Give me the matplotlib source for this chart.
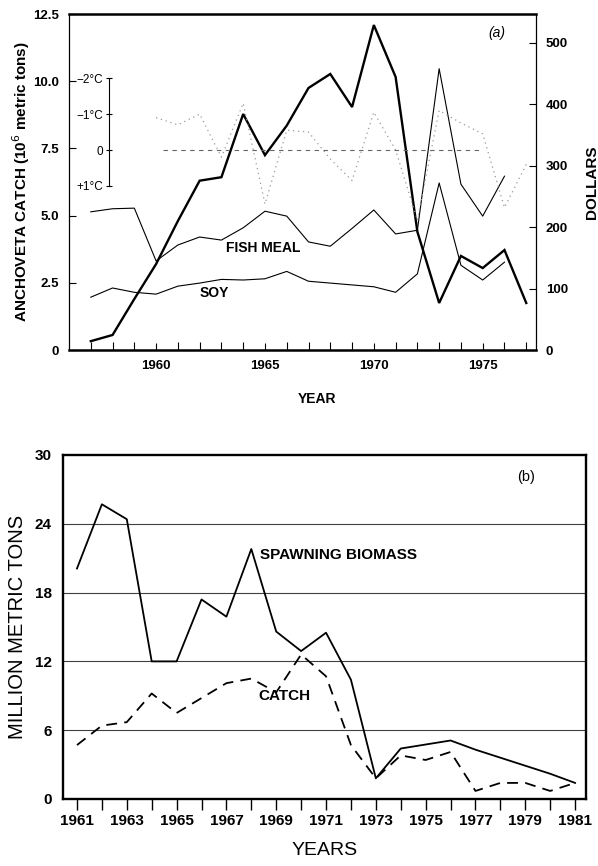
import matplotlib.pyplot as plt

plt.rcParams['font.family'] = ['Liberation Sans', 'DejaVu Sans']

# panel (a): anchoveta catch, prices and temperature anomaly
years_a = list(range(1957, 1978))
catch_a = [0.33, 0.56, 1.9, 3.2, 4.8, 6.3, 6.43, 8.78, 7.25, 8.35, 9.75, 10.27,
           9.04, 12.09, 10.16, 4.4, 1.75, 3.5, 3.05, 3.72, 1.75]
price_years = list(range(1957, 1977))
fish_meal = [225, 230, 231, 145, 171, 184, 179, 199, 226, 218, 176, 169, 198,
             228, 189, 195, 458, 270, 218, 283]
soy = [86, 101, 94, 91, 104, 109, 115, 114, 116, 128, 112, 109, 106, 103, 94,
       124, 272, 138, 114, 143]
temp_years = list(range(1960, 1978))
temp_anom = [-0.9, -0.7, -1.0, 0.2, -1.3, 1.5, -0.55, -0.5, 0.25, 0.85, -1.05,
             0.0, 1.95, -1.1, -0.75, -0.45, 1.6, 0.4]
temp_ticks = [-2, -1, 0, 1]
temp_labels = ['\u22122\u00b0C', '\u22121\u00b0C', '0', '+1\u00b0C']

# panel (b): spawning biomass and catch
years_b = list(range(1961, 1982))
biomass = [20.1, 25.7, 24.4, 12.0, 12.0, 17.4, 15.9, 21.8, 14.6, 12.9, 14.5,
           10.4, 1.8, 4.4, 4.75, 5.1, 4.3, 3.6, 2.9, 2.2, 1.4]
catch_b = [4.7, 6.4, 6.7, 9.2, 7.5, 8.8, 10.1, 10.5, 9.3, 12.6, 10.7, 4.7, 1.8,
           3.8, 3.4, 4.1, 0.7, 1.4, 1.4, 0.7, 1.4]

fig = plt.figure(figsize=(5.98, 8.66), dpi=100)

# ---------------- (a) ----------------
ax = fig.add_axes([0.1154, 0.5958, 0.781, 0.388])
ax.plot(years_a, catch_a, color='k', lw=1.7, solid_joinstyle='miter')
ax.set_xlim(1956.0, 1977.45)
ax.set_ylim(0, 12.5)
ax.set_yticks([0, 2.5, 5, 7.5, 10, 12.5])
ax.set_yticklabels(['0', '2.5', '5.0', '7.5', '10.0', '12.5'])
ax.set_xticks(range(1957, 1978), minor=True)
ax.set_xticks([1960, 1965, 1970, 1975])
ax.tick_params(axis='both', which='both', direction='in', length=5, width=0.8,
               labelsize=9.5, pad=7)
ax.tick_params(axis='x', which='minor', length=6)
for lab in ax.get_xticklabels() + ax.get_yticklabels():
    lab.set_fontweight('bold')
ax.spines['top'].set_linewidth(1.8)
ax.spines['bottom'].set_linewidth(1.8)
ax.spines['left'].set_linewidth(0.9)
ax.spines['right'].set_linewidth(0.9)
ax.set_ylabel('ANCHOVETA CATCH (10$^{6}$ metric tons)', fontsize=11,
              fontweight='bold')
ax.yaxis.set_label_coords(-0.08, 0.5)
ax.set_xlabel('YEAR', fontsize=10, fontweight='bold')
ax.xaxis.set_label_coords(0.531, -0.125)
ax.text(0.915, 0.945, '(a)', transform=ax.transAxes, fontsize=10,
        style='italic', ha='center', va='center')

ax2 = ax.twinx()
ax2.plot(price_years, fish_meal, color='k', lw=0.8)
ax2.plot(price_years, soy, color='k', lw=0.8)
ax2.set_ylim(0, 547)
ax2.set_yticks([0, 100, 200, 300, 400, 500])
ax2.tick_params(axis='y', direction='in', length=5, width=0.8, labelsize=9.5,
                pad=7)
for lab in ax2.get_yticklabels():
    lab.set_fontweight('bold')
ax2.set_ylabel('DOLLARS', fontsize=11, fontweight='bold', labelpad=12)
for s in ax2.spines.values():
    s.set_visible(False)
ax.text(1963.2, 3.8, 'FISH MEAL', fontsize=10, fontweight='bold',
        va='center')
ax.text(1962.0, 2.12, 'SOY', fontsize=10, fontweight='bold', va='center')

# temperature scale (negative up)
tax = ax.twinx()
tax.set_ylim(5.56, -3.78)
tax.plot(temp_years, temp_anom, color='0.6', lw=0.9, linestyle=(0, (1, 3)))
tax.plot([temp_years[0] + 0.3, 1975], [0, 0], color='0.4', lw=0.8,
         linestyle=(0, (4, 4)))
for name in ['top', 'bottom', 'right']:
    tax.spines[name].set_visible(False)
tax.spines['left'].set_visible(True)
tax.spines['left'].set_position(('data', 1957.84))
tax.spines['left'].set_bounds(-2, 1)
tax.spines['left'].set_linewidth(0.8)
tax.yaxis.tick_left()
tax.set_yticks(temp_ticks)
tax.set_yticklabels(temp_labels)
tax.tick_params(axis='y', direction='inout', length=5, width=0.8,
                labelsize=8.5, pad=2)

# ---------------- (b) ----------------
bx = fig.add_axes([0.1054, 0.0774, 0.8746, 0.3972])
bx.set_xlim(1960.44, 1981.44)
bx.set_ylim(0, 30)
for v in [6, 12, 18, 24]:
    bx.axhline(v, color='0.25', lw=0.8, zorder=1)
bx.plot(years_b, biomass, color='k', lw=1.3, zorder=3)
bx.plot(years_b, catch_b, color='k', lw=1.3, dashes=(6, 4), zorder=3)
bx.set_yticks([0, 6, 12, 18, 24, 30])
bx.set_xticks(range(1961, 1982))
bx.set_xticklabels([str(y) if y % 2 == 1 else '' for y in years_b])
bx.tick_params(axis='x', direction='out', length=8, width=1.0,
               labelsize=11, pad=3)
bx.tick_params(axis='y', length=0, labelsize=11, pad=8)
for lab in bx.get_xticklabels() + bx.get_yticklabels():
    lab.set_fontweight('bold')
for s in bx.spines.values():
    s.set_linewidth(1.7)
bx.set_xlabel('YEARS', fontsize=14, labelpad=10)
bx.set_ylabel('MILLION METRIC TONS', fontsize=14.5, labelpad=6)
bx.text(0.885, 0.935, '(b)', transform=bx.transAxes, fontsize=10.5,
        ha='center', va='center')
bx.text(1968.35, 21.3, 'SPAWNING BIOMASS', fontsize=11, fontweight='bold',
        va='center')
bx.text(1968.3, 9.0, 'CATCH', fontsize=11, fontweight='bold', va='center')

fig.savefig('out.png', dpi=100)
